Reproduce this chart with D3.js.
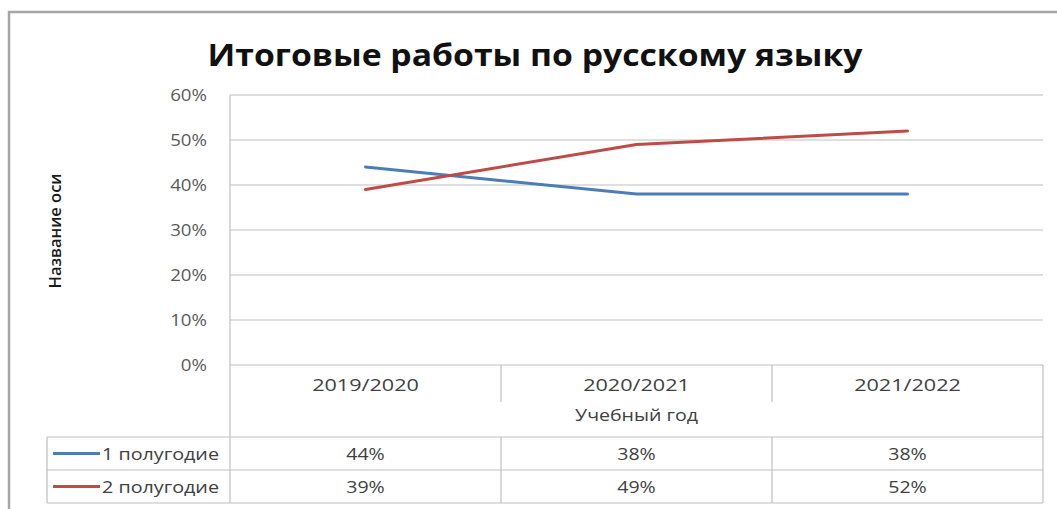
<!DOCTYPE html>
<html><head><meta charset="utf-8">
<script src="https://cdn.jsdelivr.net/npm/d3@7"></script>
<style>
html,body{margin:0;padding:0;background:#fff;}
svg{display:block;}
text{font-family:"Open Sans","Noto Sans",sans-serif;}
</style></head>
<body>
<svg id="c" width="1057" height="509"></svg>
<script>
const title = "Итоговые работы по русскому языку";
const categories = ["2019/2020", "2020/2021", "2021/2022"];
const seriesNames = ["1 полугодие", "2 полугодие"];
const series1 = [0.44, 0.38, 0.38];
const series2 = [0.39, 0.49, 0.52];
const yTicks = [0, 0.1, 0.2, 0.3, 0.4, 0.5, 0.6];
const xAxisTitle = "Учебный год";
const yAxisTitle = "Название оси";
const colors = ["#4c7db6", "#be4b48"];

(function () {
const svg = d3.select("#c");
const W = 1057, H = 509;
svg.append("rect").attr("width", W).attr("height", H).attr("fill", "#fff");

// outer frame
svg.append("rect").attr("x", 9).attr("y", 12).attr("width", 1100).attr("height", 600)
  .attr("fill", "none").attr("stroke", "#a6a6a6").attr("stroke-width", 2.5);

const pL = 230, pR = 1043, pT = 95, pB = 365;
const x = d3.scaleBand().domain(categories).range([pL, pR]);
const y = d3.scaleLinear().domain([0, 0.6]).range([pB, pT]);
const stretch = (sel, k) => sel.each(function () {
  const w = this.getComputedTextLength();
  d3.select(this).attr("textLength", w * k).attr("lengthAdjust", "spacingAndGlyphs");
});

// title
svg.append("text").attr("x", 535).attr("y", 66).attr("text-anchor", "middle")
  .attr("font-size", 30).attr("font-weight", "bold").attr("fill", "#111")
  .attr("textLength", 655).attr("lengthAdjust", "spacingAndGlyphs").text(title);

// grid
const grid = "#bfbfbf";
svg.append("g").selectAll("line").data(yTicks).join("line")
  .attr("x1", pL).attr("x2", pR).attr("y1", d => y(d)).attr("y2", d => y(d))
  .attr("stroke", grid).attr("stroke-width", 1.2);

// y axis
const yAxis = d3.axisLeft(y).tickValues(yTicks).tickFormat(d3.format(".0%")).tickSize(0).tickPadding(23);
const yg = svg.append("g").attr("transform", `translate(${pL},0)`).call(yAxis);
yg.select(".domain").remove();
yg.selectAll("text").attr("font-size", 17).attr("fill", "#595959").attr("dy", "0.33em")
  .style("font-family", '"Open Sans","Noto Sans",sans-serif');
stretch(yg.selectAll("text"), 1.1);

const rowTop = 437, rowMid = 470, rowBot = 503;
svg.append("line").attr("x1", pL).attr("x2", pL).attr("y1", pT).attr("y2", rowBot)
  .attr("stroke", grid).attr("stroke-width", 1.2);

// y axis title
svg.append("text").attr("transform", "translate(61,231) rotate(-90)").attr("text-anchor", "middle")
  .attr("font-size", 16).attr("font-weight", 600).attr("fill", "#1a1a1a")
  .attr("textLength", 115).attr("lengthAdjust", "spacingAndGlyphs").text(yAxisTitle);

// data table
const tg = svg.append("g");
const hline = (x1, x2, yy) => tg.append("line").attr("x1", x1).attr("x2", x2).attr("y1", yy).attr("y2", yy).attr("stroke", grid).attr("stroke-width", 1.2);
hline(47, pR, rowTop); hline(47, pR, rowMid); hline(47, pR, rowBot);
tg.append("line").attr("x1", 47).attr("x2", 47).attr("y1", rowTop).attr("y2", rowBot).attr("stroke", grid).attr("stroke-width", 1.2);
tg.append("line").attr("x1", pR).attr("x2", pR).attr("y1", pB).attr("y2", rowBot).attr("stroke", grid).attr("stroke-width", 1.2);
categories.slice(1).forEach(c => {
  const xx = x(c);
  tg.append("line").attr("x1", xx).attr("x2", xx).attr("y1", pB).attr("y2", 402).attr("stroke", grid).attr("stroke-width", 1.2);
  tg.append("line").attr("x1", xx).attr("x2", xx).attr("y1", rowTop).attr("y2", rowBot).attr("stroke", grid).attr("stroke-width", 1.2);
});
const fs = 17;
const cats = tg.selectAll("text.cat").data(categories).join("text").attr("class", "cat")
  .attr("x", d => x(d) + x.bandwidth() / 2).attr("y", 391).attr("text-anchor", "middle")
  .attr("font-size", fs).attr("fill", "#404040").text(d => d);
stretch(cats, 1.27);
const xt = tg.append("text").attr("x", x(categories[1]) + x.bandwidth() / 2).attr("y", 421).attr("text-anchor", "middle")
  .attr("font-size", fs).attr("fill", "#404040").text(xAxisTitle);
stretch(xt, 1.15);

const allSeries = [series1, series2];
allSeries.forEach((s, i) => {
  const yy = (i === 0 ? rowTop + rowMid : rowMid + rowBot) / 2;
  tg.append("line").attr("x1", 53).attr("x2", 100).attr("y1", yy).attr("y2", yy)
    .attr("stroke", colors[i]).attr("stroke-width", 3);
  const nm = tg.append("text").attr("x", 102).attr("y", yy + 6).attr("font-size", fs).attr("fill", "#404040").text(seriesNames[i]);
  stretch(nm, 1.16);
  const vals = tg.selectAll(null).data(s).join("text")
    .attr("x", (d, j) => x(categories[j]) + x.bandwidth() / 2).attr("y", yy + 6)
    .attr("text-anchor", "middle").attr("font-size", fs).attr("fill", "#404040")
    .text(d => d3.format(".0%")(d));
  stretch(vals, 1.15);
});

// lines
const line = d3.line().x((d, j) => x(categories[j]) + x.bandwidth() / 2).y(d => y(d));
allSeries.forEach((s, i) => {
  svg.append("path").datum(s).attr("d", line).attr("fill", "none")
    .attr("stroke", colors[i]).attr("stroke-width", 3).attr("stroke-linecap", "round");
});
})();
</script>
</body></html>
